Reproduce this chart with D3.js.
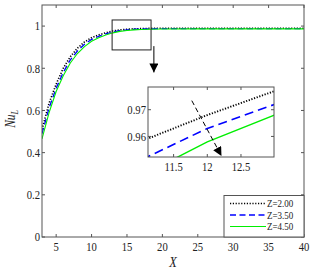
<!DOCTYPE html>
<html>
<head>
<meta charset="UTF-8">
<style>
  body { margin: 0; background: #fff; }
  text { font-family: "Liberation Serif", "Times New Roman", serif; fill: #222; }
</style>
</head>
<body>
<div id="chart"></div>
<script src="https://d3js.org/d3.v7.min.js"></script>
<script>
// values
const xs    = [3, 4, 5, 6, 7, 8, 9, 10, 11, 12, 13, 14, 15, 16, 17, 18, 20, 25, 30, 35, 40];
const z200  = [0.51, 0.635, 0.725, 0.80, 0.855, 0.895, 0.925, 0.945, 0.958, 0.968, 0.977, 0.982, 0.985, 0.987, 0.988, 0.989, 0.990, 0.990, 0.990, 0.990, 0.990];
const z350  = [0.49, 0.612, 0.705, 0.78, 0.840, 0.882, 0.914, 0.937, 0.951, 0.963, 0.972, 0.978, 0.982, 0.985, 0.986, 0.987, 0.988, 0.988, 0.988, 0.988, 0.988];
const z450  = [0.465, 0.59, 0.69, 0.765, 0.825, 0.870, 0.903, 0.928, 0.945, 0.958, 0.968, 0.975, 0.979, 0.982, 0.984, 0.985, 0.986, 0.987, 0.987, 0.987, 0.987];
const seriesNames = ["Z=2.00", "Z=3.50", "Z=4.50"];
const xTicks = [5, 10, 15, 20, 25, 30, 35, 40];
const yTicks = [0, 0.2, 0.4, 0.6, 0.8, 1];
const insetXTicks = [11.5, 12, 12.5];
const insetYTicks = [0.96, 0.97];

const W = 312, H = 271;
const sx = 0.82; // text is a bit condensed in the reference

const svg = d3.select("#chart").append("svg")
    .attr("width", W).attr("height", H);

const m = { left: 42, top: 5, right: 8, bottom: 34 };
const pw = W - m.left - m.right, ph = H - m.top - m.bottom;

const x = d3.scaleLinear().domain([3, 40]).range([m.left, m.left + pw]);
const y = d3.scaleLinear().domain([0, 1.1]).range([m.top + ph, m.top]);

const styles = [
    { color: "#000000", dash: "1.2,1.6", width: 1.6 },
    { color: "#0000ff", dash: "6,3.5", width: 1.3 },
    { color: "#00ee00", dash: null, width: 1.1 }
];
const series = [z200, z350, z450];

function label(g, px, py, str, anchor, size, italic) {
    const t = g.append("g").attr("transform", `translate(${px},${py})`)
        .append("text")
        .attr("transform", `scale(${sx},1)`)
        .attr("text-anchor", anchor)
        .attr("dominant-baseline", "central")
        .style("font-size", size + "px")
        .text(str);
    if (italic) t.style("font-style", "italic");
    return t;
}

function drawAxes(g, xs_, ys_, xt, yt, fmtX, fmtY, size) {
    const x0 = xs_.range()[0], x1 = xs_.range()[1];
    const y0 = ys_.range()[0], y1 = ys_.range()[1];
    const tk = g.append("g").attr("stroke", "#555").attr("stroke-width", 1);
    xt.forEach(v => {
        tk.append("line").attr("x1", xs_(v)).attr("x2", xs_(v)).attr("y1", y0).attr("y2", y0 - 3);
        tk.append("line").attr("x1", xs_(v)).attr("x2", xs_(v)).attr("y1", y1).attr("y2", y1 + 3);
        label(g, xs_(v), y0 + 10, fmtX(v), "middle", size);
    });
    yt.forEach(v => {
        tk.append("line").attr("x1", x0).attr("x2", x0 + 3).attr("y1", ys_(v)).attr("y2", ys_(v));
        tk.append("line").attr("x1", x1).attr("x2", x1 - 3).attr("y1", ys_(v)).attr("y2", ys_(v));
        label(g, x0 - 2, ys_(v), fmtY(v), "end", size);
    });
    g.append("rect").attr("x", x0).attr("y", y1).attr("width", x1 - x0).attr("height", y0 - y1)
        .attr("fill", "none").attr("stroke", "#555").attr("stroke-width", 1);
}

// arrow heads
const defs = svg.append("defs");
defs.append("marker").attr("id", "head").attr("viewBox", "0 0 10 10")
    .attr("refX", 10).attr("refY", 5).attr("markerWidth", 9).attr("markerHeight", 9)
    .attr("markerUnits", "userSpaceOnUse").attr("orient", "auto")
    .append("path").attr("d", "M0,0 L10,5 L0,10 Z").attr("fill", "#000");
defs.append("clipPath").attr("id", "mainClip").append("rect")
    .attr("x", m.left).attr("y", m.top).attr("width", pw).attr("height", ph);

// main curves
const main = svg.append("g");
const lineMain = (arr) => d3.line().x((d, i) => x(xs[i])).y(d => y(d))(arr);
series.forEach((s, i) => {
    main.append("path").attr("d", lineMain(s)).attr("clip-path", "url(#mainClip)")
        .attr("fill", "none").attr("stroke", styles[i].color)
        .attr("stroke-width", styles[i].width)
        .attr("stroke-dasharray", styles[i].dash);
});
drawAxes(main, x, y, xTicks, yTicks, d3.format("d"), d => d === 0 || d === 1 ? d : d3.format(".1f")(d), 13);

// axis titles
label(svg, x(21.5), 262, "X", "middle", 15, true);
const yl = svg.append("text")
    .attr("transform", `translate(15,${y(0.56)}) rotate(-90) scale(${sx},1)`)
    .attr("text-anchor", "middle")
    .style("font-size", "14px").style("font-style", "italic");
yl.append("tspan").text("Nu");
yl.append("tspan").text("L").attr("dy", 3).style("font-size", "10px");

// zoom box and arrow on the main plot
const zoomBox = { x0: 12.9, x1: 18.4, y0: 0.887, y1: 1.029 };
const zoomArrow = { x: 18.8, from: 0.905, to: 0.78 };
main.append("rect")
    .attr("x", x(zoomBox.x0)).attr("y", y(zoomBox.y1))
    .attr("width", x(zoomBox.x1) - x(zoomBox.x0)).attr("height", y(zoomBox.y0) - y(zoomBox.y1))
    .attr("fill", "none").attr("stroke", "#222").attr("stroke-width", 1);
main.append("line")
    .attr("x1", x(zoomArrow.x)).attr("x2", x(zoomArrow.x))
    .attr("y1", y(zoomArrow.from)).attr("y2", y(zoomArrow.to))
    .attr("stroke", "#000").attr("stroke-width", 1).attr("marker-end", "url(#head)");

// inset
const ix = d3.scaleLinear().domain([11.12, 12.99]).range([148, 274]);
const iy = d3.scaleLinear().domain([0.9523, 0.9785]).range([157, 87]);
defs.append("clipPath").attr("id", "insetClip").append("rect")
    .attr("x", 148).attr("y", 87).attr("width", 126).attr("height", 70);
const inset = svg.append("g");
inset.append("rect").attr("x", 148).attr("y", 87).attr("width", 126).attr("height", 70).attr("fill", "#fff");
const lineInset = (arr) => d3.line().x((d, i) => ix(xs[i])).y(d => iy(d))(arr);
series.forEach((s, i) => {
    inset.append("path").attr("d", lineInset(s)).attr("clip-path", "url(#insetClip)")
        .attr("fill", "none").attr("stroke", styles[i].color)
        .attr("stroke-width", styles[i].width + 0.3)
        .attr("stroke-dasharray", i === 1 ? "9,5" : styles[i].dash);
});
const insetArrow = { x0: 11.77, y0: 0.9734, x1: 12.21, y1: 0.9527 };
inset.append("line")
    .attr("x1", ix(insetArrow.x0)).attr("y1", iy(insetArrow.y0))
    .attr("x2", ix(insetArrow.x1)).attr("y2", iy(insetArrow.y1))
    .attr("stroke", "#000").attr("stroke-width", 1).attr("stroke-dasharray", "5,3")
    .attr("marker-end", "url(#head)");
drawAxes(inset, ix, iy, insetXTicks, insetYTicks, d => d, d => d3.format(".2f")(d), 13);

// legend
const leg = svg.append("g");
leg.append("rect").attr("x", 224).attr("y", 195.5).attr("width", x(40) - 224).attr("height", y(0) - 195.5)
    .attr("fill", "#fff").attr("stroke", "#555").attr("stroke-width", 1);
seriesNames.forEach((n, i) => {
    const ly = 203.5 + i * 11.5;
    leg.append("line").attr("x1", 230).attr("x2", 266).attr("y1", ly).attr("y2", ly)
        .attr("stroke", styles[i].color).attr("stroke-width", styles[i].width)
        .attr("stroke-dasharray", styles[i].dash);
    label(leg, 267, ly, n, "start", 11);
});
</script>
</body>
</html>
